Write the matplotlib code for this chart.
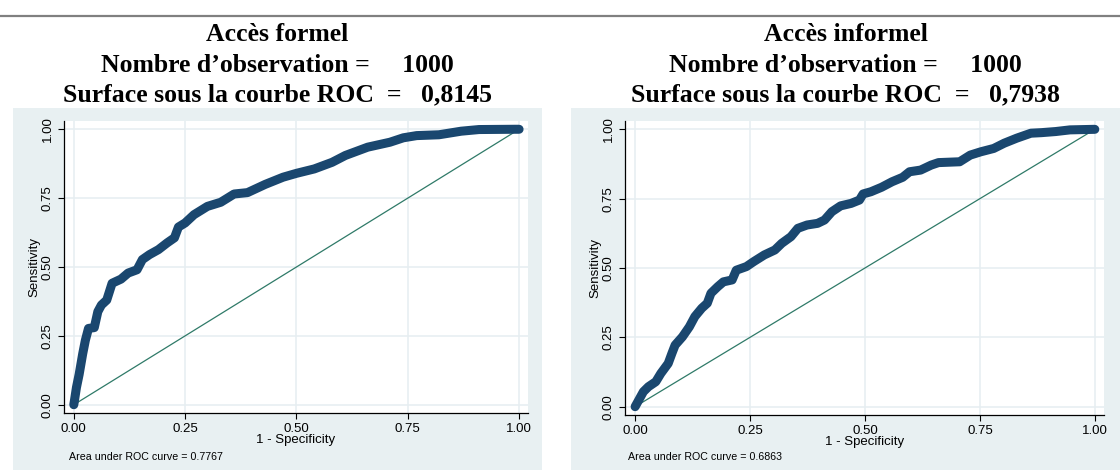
import matplotlib
matplotlib.use("Agg")
import matplotlib.pyplot as plt
from matplotlib.patches import Rectangle
from matplotlib.lines import Line2D

# ---------------- data ----------------
titles = ["Accès formel", "Accès informel"]
n_obs = [1000, 1000]
auc_title = ["0,8145", "0,7938"]
auc_note = ["0.7767", "0.6863"]

formel_fpr = [0, 0.006, 0.012, 0.02, 0.026, 0.033, 0.046, 0.054, 0.062, 0.074, 0.086,
              0.106, 0.122, 0.142, 0.154, 0.17, 0.19, 0.21, 0.226, 0.235, 0.25, 0.27,
              0.30, 0.33, 0.36, 0.39, 0.43, 0.47, 0.50, 0.54, 0.58, 0.61, 0.66, 0.71,
              0.74, 0.77, 0.82, 0.87, 0.91, 0.99, 1.0]
formel_tpr = [0, 0.063, 0.11, 0.185, 0.234, 0.277, 0.28, 0.338, 0.362, 0.38, 0.441,
              0.456, 0.478, 0.49, 0.527, 0.545, 0.563, 0.588, 0.606, 0.645, 0.66, 0.69,
              0.72, 0.735, 0.765, 0.77, 0.80, 0.826, 0.84, 0.856, 0.88, 0.905, 0.935, 0.953,
              0.969, 0.977, 0.98, 0.993, 0.999, 1.0, 1.0]

informel_fpr = [0, 0.006, 0.018, 0.029, 0.045, 0.056, 0.072, 0.08, 0.087, 0.103, 0.118,
                0.13, 0.145, 0.157, 0.165, 0.18, 0.192, 0.211, 0.22, 0.242, 0.258, 0.281,
                0.304, 0.319, 0.339, 0.354, 0.374, 0.397, 0.412, 0.428, 0.447, 0.47, 0.488,
                0.496, 0.513, 0.536, 0.559, 0.582, 0.597, 0.621, 0.644, 0.66, 0.706, 0.729,
                0.752, 0.78, 0.803, 0.83, 0.861, 0.884, 0.915, 0.946, 1.0]
informel_tpr = [0, 0.018, 0.054, 0.072, 0.09, 0.12, 0.156, 0.192, 0.222, 0.252, 0.288,
                0.325, 0.355, 0.373, 0.409, 0.433, 0.45, 0.457, 0.492, 0.505, 0.523, 0.547,
                0.565, 0.589, 0.613, 0.643, 0.655, 0.661, 0.673, 0.703, 0.724, 0.733, 0.745,
                0.767, 0.775, 0.791, 0.811, 0.827, 0.847, 0.853, 0.871, 0.88, 0.883, 0.907,
                0.919, 0.931, 0.95, 0.968, 0.986, 0.988, 0.992, 0.998, 1.0]

ticks = [0.0, 0.25, 0.5, 0.75, 1.0]
tick_labels = ["0.00", "0.25", "0.50", "0.75", "1.00"]

# ---------------- figure ----------------
W, H = 1120, 471
fig = plt.figure(figsize=(W / 100, H / 100), dpi=100)
fig.patch.set_facecolor("white")

def fx(px):
    return px / W

def fy(py):
    return 1 - py / H

# top rule
fig.add_artist(Line2D([0, 1], [fy(15.5), fy(15.5)], color="#808080", lw=1.6,
                      transform=fig.transFigure))

bg = "#e8f0f2"
navy = "#1a476f"
diag = "#2f7a68"
grid_c = "#e6eef1"
sans = ["Liberation Sans", "Arial", "DejaVu Sans"]
serif = ["Liberation Serif", "Times New Roman", "DejaVu Serif"]

panels = [
    dict(bg=(13, 542), ax=(64, 528), axy=(121, 413), cx=277.5, note_x=69,
         fpr=formel_fpr, tpr=formel_tpr),
    dict(bg=(571, 1120), ax=(625, 1104), axy=(121, 415), cx=845.5, note_x=628,
         fpr=informel_fpr, tpr=informel_tpr),
]

for i, p in enumerate(panels):
    # graph region background
    x0, x1 = p["bg"]
    fig.add_artist(Rectangle((fx(x0), fy(470)), fx(x1) - fx(x0), fy(108) - fy(470),
                             transform=fig.transFigure, facecolor=bg, edgecolor="none",
                             zorder=0))
    # titles
    lines = [titles[i],
             f"Nombre d\u2019observation =     {n_obs[i]}",
             f"Surface sous la courbe ROC  =   {auc_title[i]}"]
    for txt, base in zip(lines, [41, 72, 101]):
        fig.text(fx(p["cx"]), fy(base), txt, ha="center", va="baseline",
                 fontsize=18.5, fontweight="bold", family=serif, color="black")

    ax0, ax1 = p["ax"]
    ay0, ay1 = p["axy"]
    ax = fig.add_axes([fx(ax0), fy(ay1), fx(ax1) - fx(ax0), fy(ay0) - fy(ay1)])
    ax.set_facecolor("white")
    ax.set_xlim(-0.022, 1.02)
    ax.set_ylim(-0.03, 1.03)
    for t in ticks:
        ax.axhline(t, color=grid_c, lw=1.1, zorder=0)
        ax.axvline(t, color=grid_c, lw=1.1, zorder=0)
    ax.plot([0, 1], [0, 1], color=diag, lw=0.9, zorder=2)
    ax.plot(p["fpr"], p["tpr"], color=navy, lw=6.5, solid_capstyle="round",
            solid_joinstyle="round", zorder=3)
    for s in ["top", "right"]:
        ax.spines[s].set_visible(False)
    for s in ["left", "bottom"]:
        ax.spines[s].set_color("black")
        ax.spines[s].set_linewidth(0.9)
    ax.set_xticks(ticks)
    ax.set_xticklabels(tick_labels, family=sans, fontsize=9.5)
    ax.set_yticks(ticks)
    ax.set_yticklabels(tick_labels, family=sans, fontsize=9.5, rotation=90, va="center")
    ax.tick_params(axis="both", direction="out", length=4, width=0.8, color="black",
                   pad=3.5)
    ax.set_xlabel("1 - Specificity", family=sans, fontsize=9.5, labelpad=-1)
    ax.set_ylabel("Sensitivity", family=sans, fontsize=9.5, labelpad=1)

    fig.text(fx(p["note_x"]), fy(457), f"Area under ROC curve = {auc_note[i]}",
             ha="left", va="center", family=sans, fontsize=7.7)

fig.savefig("out.png", dpi=100, facecolor="white")
